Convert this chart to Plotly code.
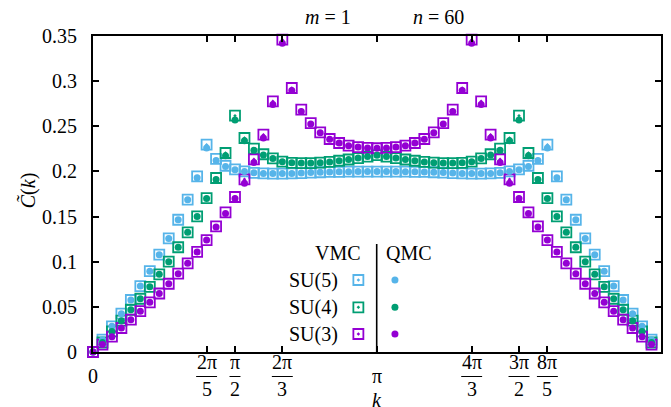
import numpy as np
import plotly.graph_objects as go

# ---------------- data ----------------
N = 60
k_index = list(range(N))
k = [2 * np.pi * i / N for i in k_index]

su5_vmc = [0.0, 0.0137, 0.0284, 0.0424, 0.0576, 0.0730, 0.0895, 0.1078, 0.1258, 0.1465,
           0.1687, 0.1945, 0.2296, 0.2138, 0.2063, 0.2022, 0.2000, 0.1985, 0.1978, 0.1976,
           0.1976, 0.1978, 0.1982, 0.1987, 0.1991, 0.1994, 0.1996, 0.1997, 0.1998, 0.1998,
           0.1998, 0.1998, 0.1998, 0.1997, 0.1996, 0.1994, 0.1991, 0.1987, 0.1982, 0.1978,
           0.1976, 0.1976, 0.1978, 0.1985, 0.2000, 0.2022, 0.2063, 0.2138, 0.2296, 0.1945,
           0.1687, 0.1465, 0.1258, 0.1078, 0.0895, 0.0730, 0.0576, 0.0424, 0.0284, 0.0137]
su5_qmc = [0.0, 0.0137, 0.0284, 0.0424, 0.0576, 0.0730, 0.0895, 0.1078, 0.1258, 0.1465,
           0.1687, 0.1930, 0.2260, 0.2120, 0.2055, 0.2018, 0.1998, 0.1985, 0.1978, 0.1976,
           0.1976, 0.1978, 0.1982, 0.1987, 0.1991, 0.1994, 0.1996, 0.1997, 0.1998, 0.1998,
           0.1998, 0.1998, 0.1998, 0.1997, 0.1996, 0.1994, 0.1991, 0.1987, 0.1982, 0.1978,
           0.1976, 0.1976, 0.1978, 0.1985, 0.1998, 0.2018, 0.2055, 0.2120, 0.2260, 0.1930,
           0.1687, 0.1465, 0.1258, 0.1078, 0.0895, 0.0730, 0.0576, 0.0424, 0.0284, 0.0137]

su4_vmc = [0.0, 0.0105, 0.0228, 0.0347, 0.0468, 0.0590, 0.0722, 0.0860, 0.1000, 0.1160,
           0.1325, 0.1502, 0.1704, 0.1927, 0.2204, 0.2617, 0.2370, 0.2252, 0.2190, 0.2145,
           0.2108, 0.2095, 0.2093, 0.2093, 0.2097, 0.2105, 0.2118, 0.2132, 0.2148, 0.2165,
           0.2180, 0.2165, 0.2148, 0.2132, 0.2118, 0.2105, 0.2097, 0.2093, 0.2093, 0.2095,
           0.2108, 0.2145, 0.2190, 0.2252, 0.2370, 0.2617, 0.2204, 0.1927, 0.1704, 0.1502,
           0.1325, 0.1160, 0.1000, 0.0860, 0.0722, 0.0590, 0.0468, 0.0347, 0.0228, 0.0105]
su4_qmc = [0.0, 0.0105, 0.0228, 0.0347, 0.0468, 0.0590, 0.0722, 0.0860, 0.1000, 0.1160,
           0.1325, 0.1502, 0.1700, 0.1910, 0.2175, 0.2570, 0.2340, 0.2235, 0.2182, 0.2142,
           0.2108, 0.2095, 0.2093, 0.2093, 0.2097, 0.2105, 0.2118, 0.2132, 0.2148, 0.2165,
           0.2180, 0.2165, 0.2148, 0.2132, 0.2118, 0.2105, 0.2097, 0.2093, 0.2093, 0.2095,
           0.2108, 0.2142, 0.2182, 0.2235, 0.2340, 0.2570, 0.2175, 0.1910, 0.1700, 0.1502,
           0.1325, 0.1160, 0.1000, 0.0860, 0.0722, 0.0590, 0.0468, 0.0347, 0.0228, 0.0105]

su3_vmc = [0.0, 0.0082, 0.0170, 0.0266, 0.0358, 0.0452, 0.0550, 0.0648, 0.0756, 0.0867,
           0.0982, 0.1108, 0.1240, 0.1391, 0.1546, 0.1717, 0.1912, 0.2134, 0.2407, 0.2776,
           0.3459, 0.2924, 0.2684, 0.2536, 0.2432, 0.2359, 0.2315, 0.2285, 0.2270, 0.2260,
           0.2257, 0.2260, 0.2270, 0.2285, 0.2315, 0.2359, 0.2432, 0.2536, 0.2684, 0.2924,
           0.3459, 0.2776, 0.2407, 0.2134, 0.1912, 0.1717, 0.1546, 0.1391, 0.1240, 0.1108,
           0.0982, 0.0867, 0.0756, 0.0648, 0.0550, 0.0452, 0.0358, 0.0266, 0.0170, 0.0082]
su3_qmc = [0.0, 0.0082, 0.0170, 0.0266, 0.0358, 0.0452, 0.0550, 0.0648, 0.0756, 0.0867,
           0.0982, 0.1108, 0.1240, 0.1385, 0.1535, 0.1700, 0.1870, 0.2100, 0.2370, 0.2740,
           0.3420, 0.2895, 0.2665, 0.2525, 0.2428, 0.2357, 0.2315, 0.2285, 0.2270, 0.2260,
           0.2257, 0.2260, 0.2270, 0.2285, 0.2315, 0.2357, 0.2428, 0.2525, 0.2665, 0.2895,
           0.3420, 0.2740, 0.2370, 0.2100, 0.1870, 0.1700, 0.1535, 0.1385, 0.1240, 0.1108,
           0.0982, 0.0867, 0.0756, 0.0648, 0.0550, 0.0452, 0.0358, 0.0266, 0.0170, 0.0082]

series_names = ["SU(5)", "SU(4)", "SU(3)"]
series_colors = ["#56B4E9", "#009E73", "#9400D3"]
vmc_data = [su5_vmc, su4_vmc, su3_vmc]
qmc_data = [su5_qmc, su4_qmc, su3_qmc]

y_ticks = [0, 0.05, 0.1, 0.15, 0.2, 0.25, 0.3, 0.35]
y_ticktext = ["0", "0.05", "0.1", "0.15", "0.2", "0.25", "0.3", "0.35"]

# x ticks in units of pi: (value/pi, numerator, denominator)
x_tick_frac = [(2/5, "2π", "5"), (1/2, "π", "2"), (2/3, "2π", "3"),
               (4/3, "4π", "3"), (3/2, "3π", "2"), (8/5, "8π", "5")]
x_tick_plain = [(0.0, "0"), (1.0, "π")]

FONT = "'Liberation Serif', 'DejaVu Serif', 'Times New Roman', serif"
FS = 20

# ---------------- figure ----------------
W, H = 671, 407
L, R, T, B = 93, 8, 36, 55
pw, ph = W - L - R, H - T - B

def px_x(px):
    return (px - L) / pw

def px_y(py):
    return (H - B - py) / ph

fig = go.Figure()

for vals, col in zip(vmc_data, series_colors):
    fig.add_trace(go.Scatter(
        x=k, y=vals, mode="markers", cliponaxis=False, showlegend=False,
        marker=dict(symbol="square-open-dot", size=10, color=col,
                    line=dict(width=1.8, color=col))))
for vals, col in zip(qmc_data, series_colors):
    fig.add_trace(go.Scatter(
        x=k, y=vals, mode="markers", cliponaxis=False, showlegend=False,
        marker=dict(symbol="circle", size=7, color=col, line=dict(width=0))))

# legend marks on an overlay axis (pixel space of the plot area)
leg_rows_y = [280, 307.3, 334]
for ly, col in zip(leg_rows_y, series_colors):
    fig.add_trace(go.Scatter(
        x=[359.3], y=[ly], xaxis="x2", yaxis="y2", mode="markers", showlegend=False,
        marker=dict(symbol="square-open-dot", size=10, color=col, line=dict(width=1.8, color=col))))
    fig.add_trace(go.Scatter(
        x=[396], y=[ly], xaxis="x2", yaxis="y2", mode="markers", showlegend=False,
        marker=dict(symbol="circle", size=7, color=col)))

annotations = []
shapes = []

def ann(px, py, text, xanchor="center", **kw):
    annotations.append(dict(x=px_x(px), y=px_y(py), xref="paper", yref="paper", text=text,
                            showarrow=False, xanchor=xanchor, yanchor="middle",
                            font=dict(family=FONT, size=FS, color="black"), **kw))

# legend texts
ann(364, 252.5, "VMC", xanchor="right")
ann(410.5, 252.5, "QMC")
for ly, name in zip(leg_rows_y, series_names):
    ann(341, ly, name, xanchor="right")
shapes.append(dict(type="line", xref="paper", yref="paper",
                   x0=px_x(377.7), x1=px_x(377.7), y0=px_y(244), y1=px_y(352),
                   line=dict(color="black", width=1.6)))

# title
ann(329, 17, "<i>m</i> = 1")
ann(440, 17, "<i>n</i> = 60")

# axis labels
ann(378, 399.5, "<i>k</i>")
annotations.append(dict(x=px_x(27), y=px_y(190), xref="paper", yref="paper",
                        text="<i>C\u0303</i>(<i>k</i>)", textangle=-90, showarrow=False,
                        xanchor="center", yanchor="middle",
                        font=dict(family=FONT, size=FS, color="black")))

# x tick labels
for v, txt in x_tick_plain:
    annotations.append(dict(x=v * np.pi, y=px_y(376), xref="x", yref="paper", text=txt,
                            showarrow=False, xanchor="center", yanchor="middle",
                            font=dict(family=FONT, size=FS, color="black")))
for v, num, den in x_tick_frac:
    for py, txt in ((362, num), (389, den)):
        annotations.append(dict(x=v * np.pi, y=px_y(py), xref="x", yref="paper", text=txt,
                                showarrow=False, xanchor="center", yanchor="middle",
                                font=dict(family=FONT, size=FS, color="black")))
    half = (10.5 if len(num) > 1 else 5.5) / pw
    xc = v / 2
    shapes.append(dict(type="line", xref="paper", yref="paper",
                       x0=xc - half, x1=xc + half, y0=px_y(376.5), y1=px_y(376.5),
                       line=dict(color="black", width=1)))

axis_common = dict(showline=True, linecolor="black", linewidth=2, mirror="allticks",
                   ticks="inside", ticklen=6, tickwidth=1.6, tickcolor="black",
                   showgrid=False, zeroline=False)

fig.update_layout(
    width=W, height=H,
    margin=dict(l=L, r=R, t=T, b=B),
    paper_bgcolor="white", plot_bgcolor="white",
    font=dict(family=FONT, size=FS, color="black"),
    xaxis=dict(range=[0, 2 * np.pi],
               tickvals=[v * np.pi for v, *_ in x_tick_frac] + [np.pi],
               showticklabels=False, **axis_common),
    yaxis=dict(range=[0, 0.35], tickvals=y_ticks, ticktext=y_ticktext,
               tickfont=dict(family=FONT, size=FS), ticklabelstandoff=10, **axis_common),
    xaxis2=dict(overlaying="x", range=[L, W - R], visible=False),
    yaxis2=dict(overlaying="y", range=[H - B, T], visible=False),
    annotations=annotations,
    shapes=shapes,
)

fig.write_html("out.html")
